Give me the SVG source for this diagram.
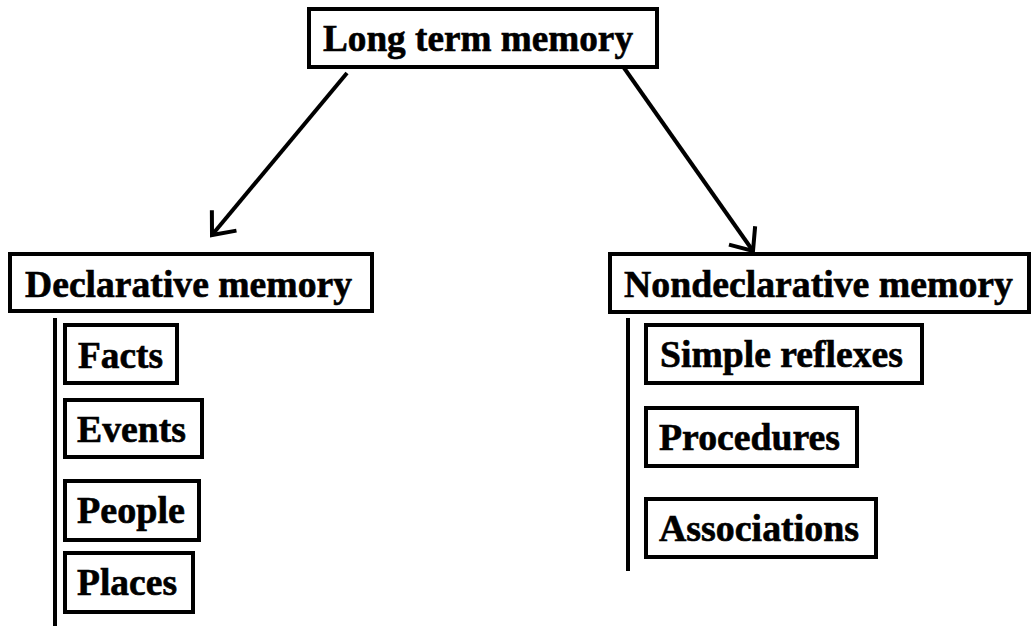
<svg xmlns="http://www.w3.org/2000/svg" width="1032" height="626" viewBox="0 0 1032 626">
<style>
.box{fill:#fff;stroke:#000;stroke-width:4}
.t{font-family:"Liberation Serif","Times New Roman",serif;font-weight:bold;font-size:37px;fill:#000;stroke:#000;stroke-width:0.6}
.c{stroke:#000;stroke-width:4;fill:none}
</style>
<defs>
<marker id="arr" markerUnits="userSpaceOnUse" viewBox="-2 -20 26 40" refX="21" refY="0" markerWidth="26" markerHeight="40" orient="auto">
<path d="M2,-16 L21,0 L2,16" fill="none" stroke="#000" stroke-width="4"/>
</marker>
</defs>
<rect width="1032" height="626" fill="#fff"/>
<g id="connectors">
<line class="c" x1="347" y1="73" x2="212" y2="235" marker-end="url(#arr)"/>
<line class="c" x1="622" y1="65" x2="753" y2="251" marker-end="url(#arr)"/>
<line class="c" x1="55" y1="318" x2="55" y2="626"/>
<line class="c" x1="628" y1="318" x2="628" y2="571"/>
</g>
<g id="ltm">
<rect class="box" x="309" y="9" width="348" height="58"/>
<text class="t" x="323" y="51" textLength="310" lengthAdjust="spacingAndGlyphs">Long term memory</text>
</g>
<g id="declarative">
<rect class="box" x="10" y="254" width="362" height="57"/>
<text class="t" x="25" y="297" textLength="327" lengthAdjust="spacingAndGlyphs">Declarative memory</text>
</g>
<g id="nondeclarative">
<rect class="box" x="610" y="254" width="419" height="58"/>
<text class="t" x="624" y="297" textLength="389" lengthAdjust="spacingAndGlyphs">Nondeclarative memory</text>
</g>
<g id="facts">
<rect class="box" x="65" y="325" width="112" height="58"/>
<text class="t" x="78" y="368" textLength="85" lengthAdjust="spacingAndGlyphs">Facts</text>
</g>
<g id="events">
<rect class="box" x="65" y="400" width="137" height="57"/>
<text class="t" x="77" y="442" textLength="109" lengthAdjust="spacingAndGlyphs">Events</text>
</g>
<g id="people">
<rect class="box" x="65" y="481" width="134" height="59"/>
<text class="t" x="77" y="523" textLength="108" lengthAdjust="spacingAndGlyphs">People</text>
</g>
<g id="places">
<rect class="box" x="65" y="553" width="128" height="59"/>
<text class="t" x="77" y="595" textLength="100" lengthAdjust="spacingAndGlyphs">Places</text>
</g>
<g id="simple">
<rect class="box" x="646" y="325" width="276" height="58"/>
<text class="t" x="660" y="367" textLength="243" lengthAdjust="spacingAndGlyphs">Simple reflexes</text>
</g>
<g id="procedures">
<rect class="box" x="646" y="408" width="211" height="58"/>
<text class="t" x="659" y="450" textLength="181" lengthAdjust="spacingAndGlyphs">Procedures</text>
</g>
<g id="associations">
<rect class="box" x="646" y="499" width="230" height="58"/>
<text class="t" x="659" y="541" textLength="200" lengthAdjust="spacingAndGlyphs">Associations</text>
</g>
</svg>
